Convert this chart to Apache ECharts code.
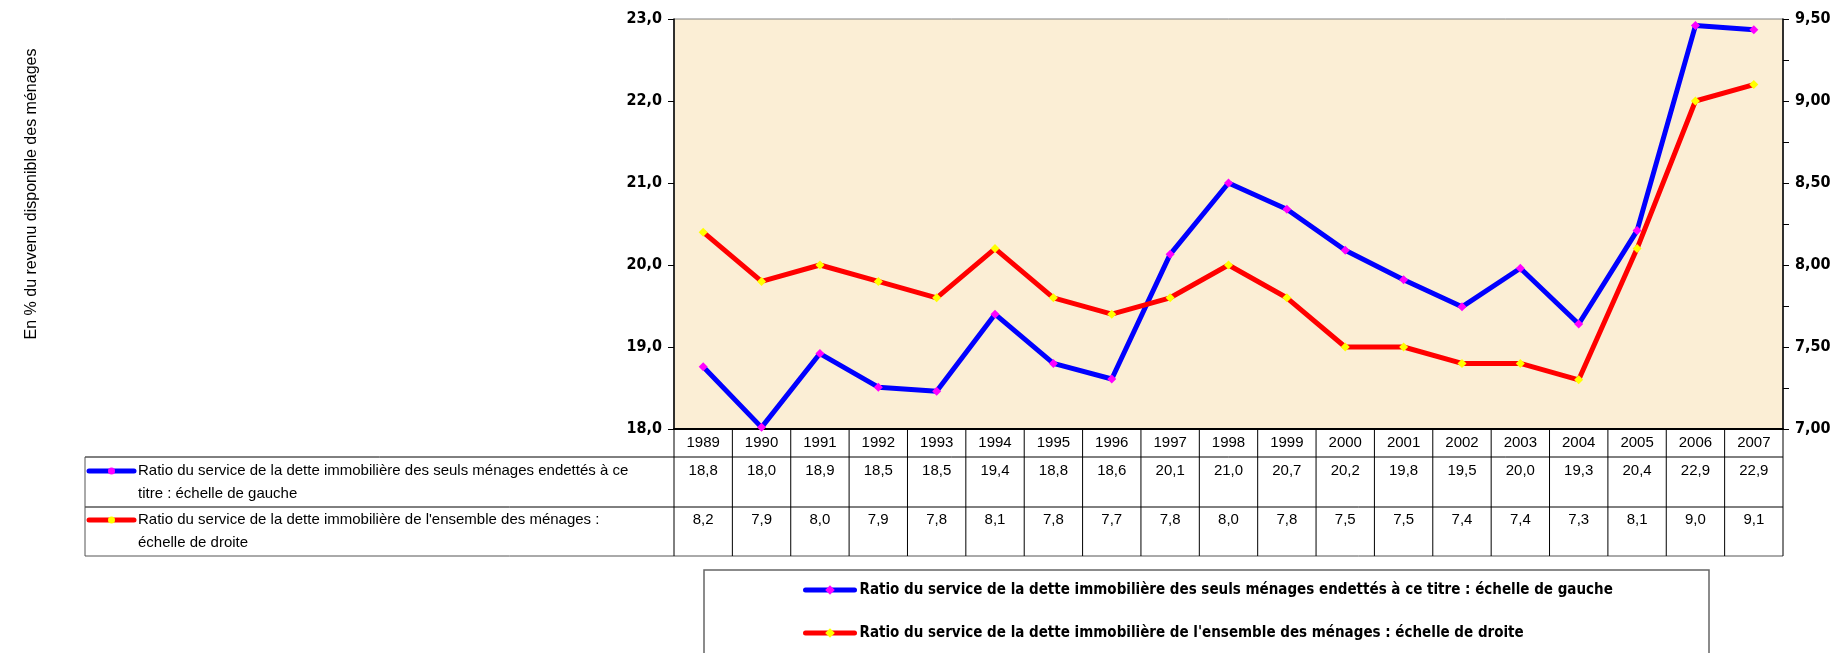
<!DOCTYPE html>
<html>
<head>
<meta charset="utf-8">
<script src="https://cdn.jsdelivr.net/npm/echarts@6/dist/echarts.min.js"></script>
<style>
  html, body { margin: 0; padding: 0; background: #fff; }
  #main { width: 1845px; height: 653px; }
</style>
</head>
<body>
<div id="main"></div>
<script>
// données
var years = ['1989', '1990', '1991', '1992', '1993', '1994', '1995', '1996', '1997', '1998',
             '1999', '2000', '2001', '2002', '2003', '2004', '2005', '2006', '2007'];
// ratio des seuls ménages endettés (échelle de gauche)
var seulsEndettes = [18.76, 18.02, 18.92, 18.51, 18.46, 19.40, 18.80, 18.61, 20.13, 21.00,
                     20.68, 20.18, 19.82, 19.49, 19.96, 19.28, 20.42, 22.92, 22.87];
// ratio de l'ensemble des ménages (échelle de droite)
var ensembleMenages = [8.2, 7.9, 8.0, 7.9, 7.8, 8.1, 7.8, 7.7, 7.8, 8.0,
                       7.8, 7.5, 7.5, 7.4, 7.4, 7.3, 8.1, 9.0, 9.1];

var nomBleu = 'Ratio du service de la dette immobilière des seuls ménages endettés à ce titre : échelle de gauche';
var nomRouge = "Ratio du service de la dette immobilière de l'ensemble des ménages : échelle de droite";
var tabBleu = ['Ratio du service de la dette immobilière des seuls ménages endettés à ce', 'titre : échelle de gauche'];
var tabRouge = ["Ratio du service de la dette immobilière de l'ensemble des ménages :", 'échelle de droite'];

var narrow = '"DejaVu Sans Condensed", "Liberation Sans Narrow", "Arial Narrow", sans-serif';
var arial = '"Liberation Sans", Arial, sans-serif';

function virgule(v, d) {
    return v.toFixed(d).replace('.', ',');
}

var myChart = echarts.init(document.getElementById('main'));

myChart.setOption({
    animation: false,
    grid: {
        left: 674, top: 19, width: 1109, height: 410,
        show: true,
        backgroundColor: '#fbeed5',
        borderColor: '#808080',
        borderWidth: 1
    },
    xAxis: {
        type: 'category',
        data: years,
        boundaryGap: true,
        axisLine: { lineStyle: { color: '#000', width: 2 } },
        axisTick: { show: false },
        axisLabel: { show: false },
        splitLine: { show: false }
    },
    yAxis: [{
        type: 'value',
        min: 18, max: 23, interval: 1,
        axisLine: { show: true, lineStyle: { color: '#000', width: 1.5 } },
        axisTick: { show: true, length: 6, lineStyle: { color: '#000' } },
        axisLabel: {
            margin: 12, fontSize: 16, fontWeight: 'bold', color: '#000', fontFamily: narrow,
            formatter: function (v) { return virgule(v, 1); }
        },
        splitLine: { show: false }
    }, {
        type: 'value',
        position: 'right',
        min: 7, max: 9.5, interval: 0.25,
        axisLine: { show: true, lineStyle: { color: '#000', width: 1.5 } },
        axisTick: { show: true, length: 6, lineStyle: { color: '#000' } },
        axisLabel: {
            margin: 12, fontSize: 16, fontWeight: 'bold', color: '#000', fontFamily: narrow,
            formatter: function (v) {
                return Math.abs(v * 2 - Math.round(v * 2)) < 1e-6 ? virgule(v, 2) : '';
            }
        },
        splitLine: { show: false }
    }],
    legend: {
        orient: 'vertical',
        left: 803, top: 580,
        padding: 0,
        itemWidth: 49, itemHeight: 12,
        itemGap: 23,
        lineStyle: { width: 5, cap: 'round' },
        textStyle: { fontSize: 15, fontWeight: 'bold', fontFamily: narrow, color: '#000', lineHeight: 20 },
        data: [nomBleu, nomRouge]
    },
    series: [{
        name: nomBleu,
        type: 'line',
        yAxisIndex: 0,
        data: seulsEndettes,
        symbol: 'diamond',
        symbolSize: 9,
        lineStyle: { color: '#0000ff', width: 5 },
        itemStyle: { color: '#ff00ff' }
    }, {
        name: nomRouge,
        type: 'line',
        yAxisIndex: 1,
        data: ensembleMenages,
        symbol: 'diamond',
        symbolSize: 9,
        lineStyle: { color: '#ff0000', width: 5 },
        itemStyle: { color: '#ffff00' }
    }]
});

// tableau de données sous le graphique
function tableau() {
    var g = [];
    var x0 = myChart.convertToPixel({ xAxisIndex: 0 }, 0);
    var x1 = myChart.convertToPixel({ xAxisIndex: 0 }, 1);
    var w = x1 - x0;
    var gauche = x0 - w / 2;
    var droite = gauche + w * years.length;
    var yHaut = 429, yAn = 457, yR1 = 507, yBas = 556, xTab = 85;

    function ligne(a, b, c, d, col) {
        g.push({ type: 'line', silent: true, shape: { x1: a, y1: b, x2: c, y2: d },
                 style: { stroke: col || '#000', lineWidth: 1 } });
    }
    function texte(x, y, t, align, font) {
        g.push({ type: 'text', silent: true, x: x, y: y,
                 style: { text: t, fill: '#000', font: font || ('15px ' + arial),
                          align: align || 'center', verticalAlign: 'middle' } });
    }
    // lignes horizontales
    ligne(gauche, yAn, droite, yAn);
    ligne(xTab, yAn, gauche, yAn);
    ligne(xTab, yR1, droite, yR1);
    ligne(xTab, yBas, droite, yBas, '#555');
    ligne(xTab, yAn, xTab, yBas, '#555');
    // colonnes
    for (var i = 0; i <= years.length; i++) {
        ligne(gauche + i * w, yHaut, gauche + i * w, yBas);
    }
    years.forEach(function (an, i) {
        var cx = myChart.convertToPixel({ xAxisIndex: 0 }, i);
        texte(cx, 443, an);
        texte(cx, 471, virgule(seulsEndettes[i], 1));
        texte(cx, 520, virgule(ensembleMenages[i], 1));
    });
    // légendes du tableau
    function icone(y, cLigne, cPoint) {
        g.push({ type: 'line', silent: true, shape: { x1: 89, y1: y, x2: 134, y2: y },
                 style: { stroke: cLigne, lineWidth: 5, lineCap: 'round' } });
        g.push({ type: 'circle', silent: true, shape: { cx: 111.5, cy: y, r: 3.5 },
                 style: { fill: cPoint } });
    }
    icone(471, '#0000ff', '#ff00ff');
    icone(520, '#ff0000', '#ffff00');
    texte(138, 471, tabBleu[0], 'left');
    texte(138, 494, tabBleu[1], 'left');
    texte(138, 520, tabRouge[0], 'left');
    texte(138, 543, tabRouge[1], 'left');

    // cadre de la légende
    g.push({ type: 'rect', silent: true, z: -1, shape: { x: 704, y: 570, width: 1005, height: 110 },
             style: { fill: '#fff', stroke: '#666', lineWidth: 1.5 } });

    // titre de l'axe vertical
    g.push({ type: 'text', silent: true, x: 32, y: 194, rotation: Math.PI / 2,
             style: { text: 'En % du revenu disponible des ménages', fill: '#000',
                      font: '16px ' + arial, align: 'center', verticalAlign: 'middle' } });

    myChart.setOption({ graphic: g });
}
tableau();
</script>
</body>
</html>
